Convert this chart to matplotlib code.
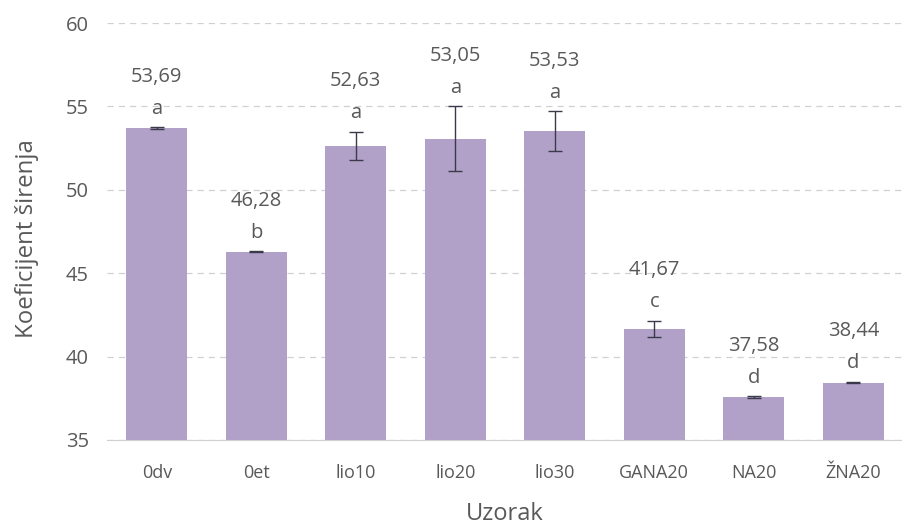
import matplotlib
matplotlib.use("Agg")
import matplotlib.pyplot as plt
import numpy as np

categories = ["0dv", "0et", "lio10", "lio20", "lio30", "GANA20", "NA20", "ŽNA20"]
values = [53.69, 46.28, 52.63, 53.05, 53.53, 41.67, 37.58, 38.44]
errors = [0.05, 0.03, 0.85, 1.95, 1.2, 0.48, 0.05, 0.05]
letters = ["a", "b", "a", "a", "a", "c", "d", "d"]
yticks = [35, 40, 45, 50, 55, 60]

plt.rcParams['font.family'] = ['Open Sans', 'DejaVu Sans']
txt = "#595959"
fig = plt.figure(figsize=(9.03, 5.28), dpi=100)
ax = fig.add_axes([0.1185, 0.1667, 0.8815, 0.7897])

x = np.arange(len(categories))
ax.bar(x, values, width=0.61, color="#b1a0c7", zorder=2)
ax.errorbar(x, values, yerr=errors, fmt="none", ecolor="#3a3a4a", elinewidth=1,
            capsize=5, capthick=1, zorder=3)

for xi, v, e, l in zip(x, values, errors, letters):
    top = v + e
    ax.annotate(l, (xi, top), xytext=(0, 6), textcoords="offset points",
                ha="center", va="bottom", fontsize=14.5, color=txt)
    ax.annotate(f"{v:.2f}".replace(".", ","), (xi, top), xytext=(0, 29),
                textcoords="offset points", ha="center", va="bottom",
                fontsize=14.5, color=txt)

ax.set_ylim(35, 60)
ax.set_yticks(yticks)
ax.set_yticklabels([str(t) for t in yticks])
ax.set_xlim(-0.5, len(categories) - 0.5)
ax.set_xticks(x)
ax.set_xticklabels(categories)
ax.tick_params(axis="both", length=0, colors=txt)
ax.tick_params(axis="x", labelsize=13, pad=17)
ax.tick_params(axis="y", labelsize=14.5, pad=13)
ax.yaxis.grid(True, linestyle=(0, (5, 4)), color="#d0d0d0", linewidth=0.9, zorder=0)
for s in ["top", "right", "left"]:
    ax.spines[s].set_visible(False)
ax.spines["bottom"].set_color("#d0d0d0")
ax.set_ylabel("Koeficijent širenja", fontsize=17.3, color=txt, va="center")
ax.yaxis.set_label_coords(-0.1, 0.482)
ax.set_xlabel("Uzorak", fontsize=17, color=txt, labelpad=15)

fig.savefig("out.png", dpi=100)
